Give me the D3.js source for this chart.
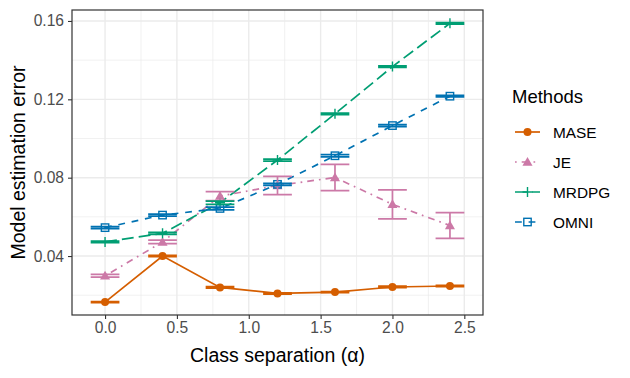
<!DOCTYPE html>
<html>
<head>
<meta charset="utf-8">
<script src="https://cdn.jsdelivr.net/npm/d3@7"></script>
<style>
  body { margin: 0; background: #fff; }
  text { font-family: "Liberation Sans", Arial, sans-serif; }
</style>
</head>
<body>
<svg id="chart" width="630" height="378"></svg>
<script>
// data
const alphas = [0, 0.4, 0.8, 1.2, 1.6, 2.0, 2.4];
const methods = ["MASE", "JE", "MRDPG", "OMNI"];
const maseMean = [0.0165, 0.0400, 0.0240, 0.0209, 0.0216, 0.0242, 0.0247];
const maseSe = [0.0003, 0.0003, 0.0004, 0.0003, 0.0003, 0.0004, 0.0003];
const jeMean = [0.0299, 0.0472, 0.0706, 0.0760, 0.0801, 0.0664, 0.0556];
const jeSe = [0.0007, 0.0009, 0.0023, 0.0047, 0.0067, 0.0074, 0.0066];
const mrdpgMean = [0.0472, 0.0516, 0.0672, 0.0890, 0.1126, 0.1367, 0.1588];
const mrdpgSe = [0.0004, 0.0005, 0.0008, 0.0005, 0.0004, 0.0004, 0.0004];
const omniMean = [0.0545, 0.0609, 0.0643, 0.0766, 0.0912, 0.1066, 0.1216];
const omniSe = [0.0005, 0.0005, 0.0007, 0.0005, 0.0006, 0.0005, 0.0004];
const xTicks = [0, 0.5, 1.0, 1.5, 2.0, 2.5];
const yTicks = [0.04, 0.08, 0.12, 0.16];

const COLORS = { MASE: "#D55E00", JE: "#CC79A7", MRDPG: "#009E73", OMNI: "#0072B2" };
const DASHES = { MASE: null, JE: "1.7,5,6.8,5", MRDPG: "11.9,5.1", OMNI: "6.8,6.8" };
const LW = 1.7;
const GRID = "#EBEBEB";

const series = [
  { name: "MASE", mean: maseMean, se: maseSe },
  { name: "JE", mean: jeMean, se: jeSe },
  { name: "MRDPG", mean: mrdpgMean, se: mrdpgSe },
  { name: "OMNI", mean: omniMean, se: omniSe }
].map(s => ({ name: s.name, pts: alphas.map((a, i) => ({ a: a, m: s.mean[i], se: s.se[i] })) }));

const panel = { left: 72, right: 483, top: 10, bottom: 315 };
const svg = d3.select("#chart");

let x = d3.scaleLinear().domain([-0.23, 2.63]).range([panel.left, panel.right]);
let y = d3.scaleLinear().domain([0.0099, 0.1656]).range([panel.bottom, panel.top]);

// grid
let grid = svg.append("g");
let minorX = d3.range(-0.25, 2.76, 0.5).filter(v => x(v) > panel.left && x(v) < panel.right);
let minorY = [0.02, 0.06, 0.10, 0.14];
grid.selectAll(".mx").data(minorX).join("line")
  .attr("x1", d => x(d)).attr("x2", d => x(d)).attr("y1", panel.top).attr("y2", panel.bottom)
  .attr("stroke", GRID).attr("stroke-width", 0.7);
grid.selectAll(".my").data(minorY).join("line")
  .attr("x1", panel.left).attr("x2", panel.right).attr("y1", d => y(d)).attr("y2", d => y(d))
  .attr("stroke", GRID).attr("stroke-width", 0.7);
grid.selectAll(".gx").data(xTicks).join("line")
  .attr("x1", d => x(d)).attr("x2", d => x(d)).attr("y1", panel.top).attr("y2", panel.bottom)
  .attr("stroke", GRID).attr("stroke-width", 1.4);
grid.selectAll(".gy").data(yTicks).join("line")
  .attr("x1", panel.left).attr("x2", panel.right).attr("y1", d => y(d)).attr("y2", d => y(d))
  .attr("stroke", GRID).attr("stroke-width", 1.4);

// lines
let line = d3.line().x(d => x(d.a)).y(d => y(d.m));
svg.append("g").selectAll("path").data(series).join("path")
  .attr("d", d => line(d.pts))
  .attr("fill", "none")
  .attr("stroke", d => COLORS[d.name])
  .attr("stroke-width", LW)
  .attr("stroke-dasharray", d => DASHES[d.name]);

// points
function drawMarker(g, name, cx, cy, scale) {
  let c = COLORS[name];
  scale = scale || 1;
  if (name === "MASE") {
    g.append("circle").attr("cx", cx).attr("cy", cy).attr("r", 4 * scale).attr("fill", c);
  } else if (name === "JE") {
    let tri = d3.symbol().type(d3.symbolTriangle).size(44 * scale * scale);
    g.append("path").attr("d", tri()).attr("transform", `translate(${cx},${cy + 0.8})`).attr("fill", c);
  } else if (name === "MRDPG") {
    let h = 5 * scale;
    g.append("path").attr("d", `M${cx - h},${cy}H${cx + h}M${cx},${cy - h}V${cy + h}`)
      .attr("stroke", c).attr("stroke-width", 1.4).attr("fill", "none");
  } else {
    let h = 3.7 * scale;
    g.append("rect").attr("x", cx - h).attr("y", cy - h).attr("width", 2 * h).attr("height", 2 * h)
      .attr("fill", "none").attr("stroke", c).attr("stroke-width", 1.4);
  }
}
let ptsG = svg.append("g");
series.forEach(s => s.pts.forEach(p => drawMarker(ptsG, s.name, x(p.a), y(p.m))));

// error bars
let ebG = svg.append("g");
series.forEach(s => {
  let c = COLORS[s.name];
  s.pts.forEach(p => {
    let lo = y(p.m - p.se), hi = y(p.m + p.se);
    let x0 = x(p.a - 0.1), x1 = x(p.a + 0.1), xm = x(p.a);
    ebG.append("path")
      .attr("d", `M${x0},${hi}H${x1}M${xm},${hi}V${lo}M${x0},${lo}H${x1}`)
      .attr("fill", "none").attr("stroke", c).attr("stroke-width", LW);
  });
});

// panel border
svg.append("rect").attr("x", panel.left).attr("y", panel.top)
  .attr("width", panel.right - panel.left).attr("height", panel.bottom - panel.top)
  .attr("fill", "none").attr("stroke", "#333333").attr("stroke-width", 1.2);

// axes
let xAxis = svg.append("g").attr("transform", `translate(0,${panel.bottom})`)
  .call(d3.axisBottom(x).tickValues(xTicks).tickFormat(d3.format(".1f")).tickSize(4).tickSizeOuter(0));
let yAxis = svg.append("g").attr("transform", `translate(${panel.left},0)`)
  .call(d3.axisLeft(y).tickValues(yTicks).tickFormat(d3.format(".2f")).tickSize(4).tickSizeOuter(0));
[xAxis, yAxis].forEach(a => {
  a.select(".domain").remove();
  a.selectAll(".tick line").attr("stroke", "#333333").attr("stroke-width", 1.1);
  a.selectAll(".tick text").attr("fill", "#4D4D4D").style("font-size", "15.6px")
    .style("font-family", "'Liberation Sans', Arial, sans-serif");
});
xAxis.selectAll(".tick text").attr("dy", "0.71em").attr("y", 7);
yAxis.selectAll(".tick text").attr("x", -8);

// axis titles
svg.append("text").attr("x", (panel.left + panel.right) / 2).attr("y", 362)
  .attr("text-anchor", "middle").style("font-size", "19.5px").attr("fill", "#000")
  .text("Class separation (α)");
svg.append("text").attr("transform", `translate(25,${(panel.top + panel.bottom) / 2}) rotate(-90)`)
  .attr("text-anchor", "middle").style("font-size", "19.5px").attr("fill", "#000")
  .text("Model estimation error");

// legend
let leg = svg.append("g");
leg.append("text").attr("x", 512).attr("y", 103).style("font-size", "18.5px").attr("fill", "#000").text("Methods");
methods.forEach((m, i) => {
  let cy = 132 + i * 30;
  let g = leg.append("g");
  g.append("line").attr("x1", 515).attr("x2", 540).attr("y1", cy).attr("y2", cy)
    .attr("stroke", COLORS[m]).attr("stroke-width", LW).attr("stroke-dasharray", DASHES[m]);
  drawMarker(g, m, 527.5, cy);
  g.append("text").attr("x", 553).attr("y", cy).attr("dy", "0.36em")
    .style("font-size", "15.4px").attr("fill", "#000").text(m);
});
</script>
</body>
</html>
